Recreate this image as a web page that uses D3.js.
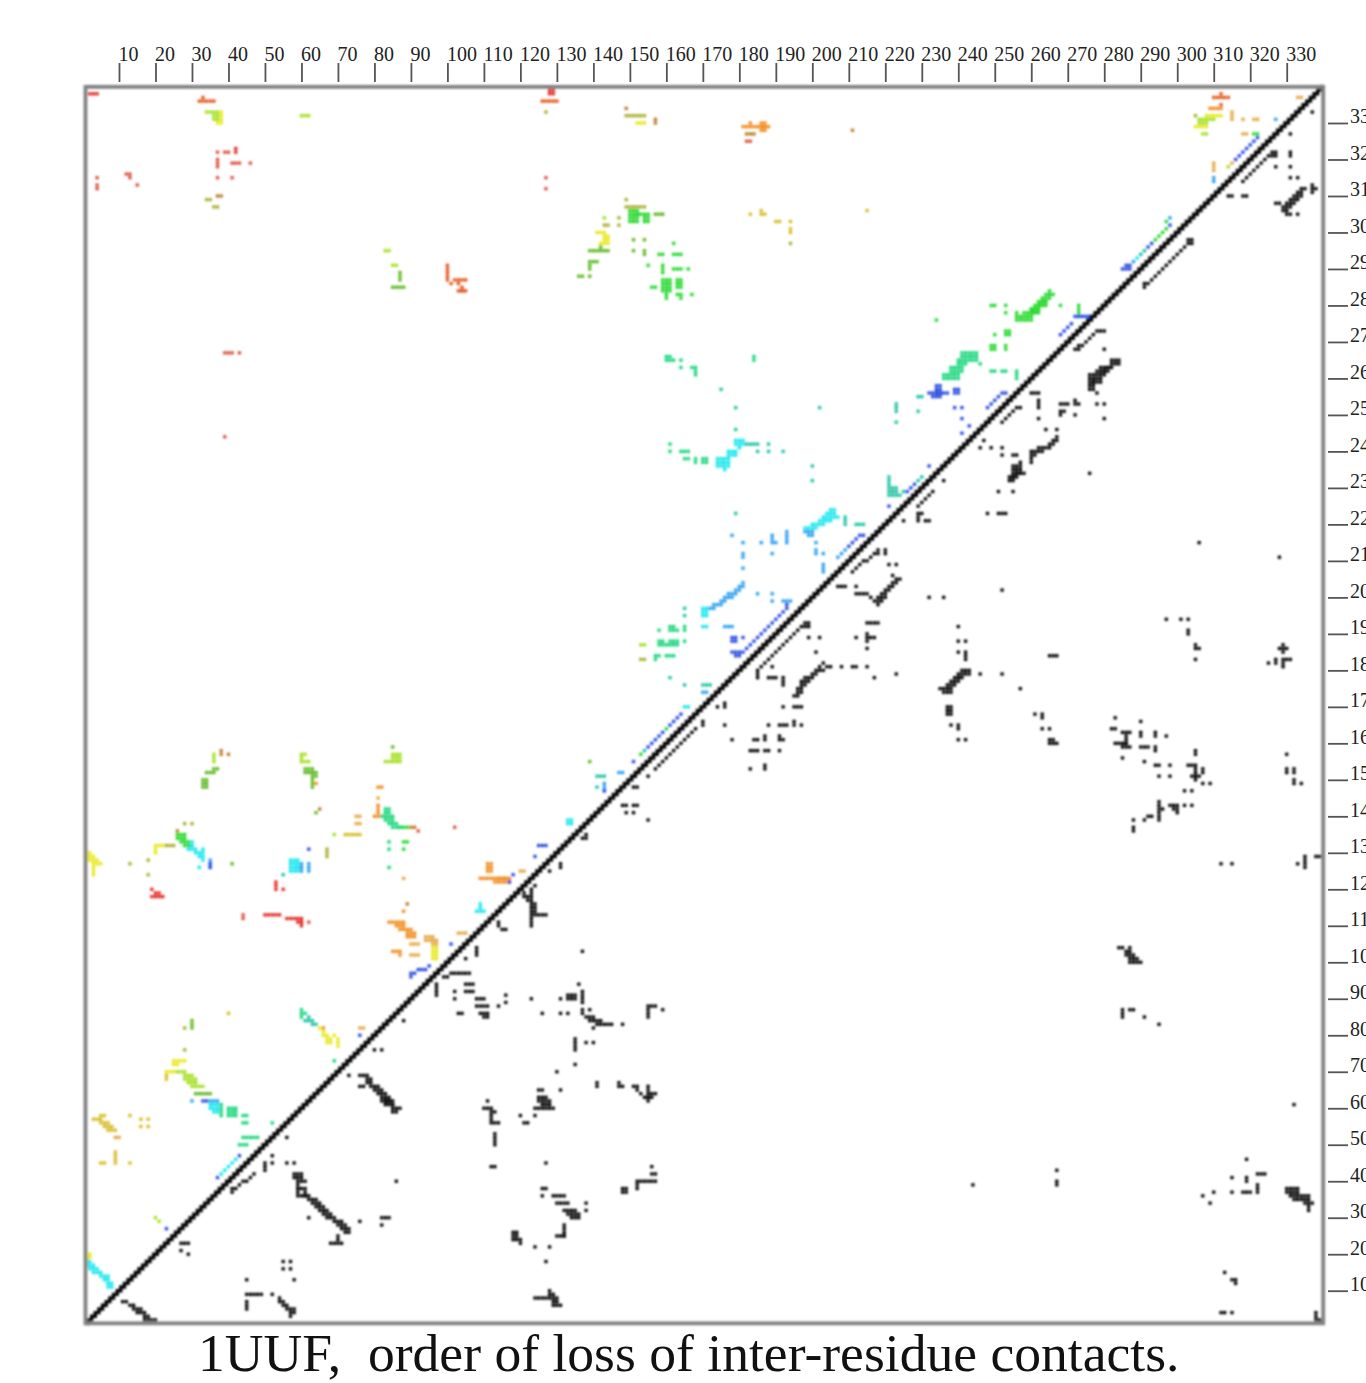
<!DOCTYPE html>
<html>
<head>
<meta charset="utf-8">
<title>1UUF contact map</title>
<script src="https://cdn.jsdelivr.net/npm/d3@7/dist/d3.min.js"></script>
<style>
  html, body { margin: 0; padding: 0; background: #fff; overflow: hidden; }
  svg { display: block; }
  text { font-family: "Liberation Serif", serif; fill: #222; }
</style>
</head>
<body>
<div id="chart"></div>
<script>
// Contact cells in residue numbers.
// [x, y] one cell, [x0, x1, y] a row, [x0, x1, y0, y1] a block.
const TICK_VALUES = [10, 20, 30, 40, 50, 60, 70, 80, 90, 100, 110, 120, 130, 140, 150, 160, 170,
  180, 190, 200, 210, 220, 230, 240, 250, 260, 270, 280, 290, 300, 310, 320, 330];
const TITLE = '1UUF,  order of loss of inter-residue contacts.';

const cellsRed = [[2,4,338],[128,129,338,339],[19,22,118],[20,21,119,119],[19,120],[53,53,120,122],[55,120],
  [50,54,113],[56,59,112],[59,60,111],[60,60,110,112],[42,42,322,323]];
const cellsRose = [[37,322],[39,40,322],[37,37,318,320],[41,43,319],[46,319],[37,315],[41,315],[4,315],[4,4,312,313],
  [12,13,316],[13,315],[15,313],[127,315],[127,312],[182,183,325],[44,44,112,113],[62,111],[39,244],[39,41,267],[43,267],
  [92,136],[102,137]];
const cellsVermilion = [[32,36,336],[33,337],[126,130,336],[310,314,337],[312,338],[312,335],[100,100,287,291],[101,286],
  [102,287],[103,105,287],[103,286],[104,104,284,285],[103,105,284]];
const cellsOrange = [[84,88,111],[86,88,110],[87,90,109],[89,91,108],[89,91,107],[111,112,125,127],[109,116,123],
  [113,117,122],[114,117,123],[181,184,329],[183,330],[185,188,329],[186,187,328,330],[80,82,140],[81,81,141,143],
  [85,87,103],[87,102],[81,82,148],[64,149],[88,114],[309,312,334],[66,82]];
const cellsTan = [[90,92,105],[94,96,106,107],[96,97,105,106],[90,91,102],[92,102],[103,105,108],[120,121,125],[75,76,140],
  [75,76,138],[81,145],[88,123],[76,77,82],[315,315,331,333],[318,331],[321,322,331],[333,334,337],[318,319,327],
  [310,310,317,319],[315,319],[9,10,52]];
const cellsBrown = [[38,38,157,158],[40,157],[37,38,310],[90,91,137],[89,116],[182,184,327],[211,328],[149,334],
  [157,157,330,331],[26,136],[65,142]];
const cellsGold = [[72,76,135],[23,23,68,69],[3,5,57],[5,6,58],[5,7,56],[6,8,55],[7,9,54],[9,9,45,48],[5,6,45],[13,45],
  [13,58],[16,57],[18,57],[16,55],[18,55],[40,86],[183,305],[186,186,305,306],[187,305],[190,191,303],[194,303],
  [194,194,300,301],[215,306]];
const cellsYellow = [[1,2,130],[1,3,129],[1,4,128],[3,5,127],[3,3,124,126],[141,143,300],[143,144,298,299],[142,144,297],
  [38,38,331,333],[37,38,330],[152,154,330],[20,22,132],[20,20,130,131],[23,25,70],[25,28,73],[25,26,72],[66,66,80,81],
  [65,82],[67,67,79,80],[68,79],[69,80],[70,70,77,79],[68,78],[67,78],[305,308,329],[96,97,101,104],[1,2,19,20],
  [308,312,332]];
const cellsOlive = [[34,35,309],[36,37,307],[127,333],[149,154,332],[149,309],[149,154,307],[13,127],[18,128],[18,124],
  [28,138],[30,138],[23,25,132],[143,144,302],[147,304],[147,302],[194,297],[28,76],[28,82],[67,67,129,131],[305,332],
  [153,154,183]];
const cellsLime = [[34,37,333],[36,37,331,332],[60,62,332],[83,84,295],[85,86,291],[143,304],[306,310,331],[306,308,330],
  [307,308,327],[314,318],[36,36,155,157],[60,61,157],[60,60,155,156],[61,62,155],[69,135],[83,87,155],[85,87,156,157],
  [26,28,70],[28,30,69],[28,31,68],[29,31,67],[30,33,66],[20,30],[21,29],[153,154,187]];
const cellsLeaf = [[87,87,287,289],[85,88,285],[139,144,295],[142,296],[139,141,292],[139,139,290,291],[136,137,288],
  [139,288],[157,159,305],[151,298],[154,298],[151,295],[154,154,294,295],[85,159],[61,63,152,153],[63,64,151,152],
  [63,63,148,150],[64,141],[30,30,82,84],[33,34,148,150],[34,36,152],[36,37,153],[41,127],[31,35,64],[139,155]];
const cellsGreen = [[150,152,303,306],[152,155,305],[154,155,303,304],[158,159,294],[162,164,294],[162,297],[155,291],
  [159,159,289,291],[162,164,290],[166,290],[156,157,285],[159,161,284,287],[160,160,282,283],[163,164,285,287],
  [164,164,282,283],[163,283],[167,283],[26,28,134,135],[27,29,133],[28,30,132],[265,265,282,284],[264,264,281,283],
  [263,263,280,282],[262,262,279,281],[261,261,278,280],[260,260,276,279],[256,259,276,277],[258,259,278],[249,250,280],
  [253,280],[253,278],[256,278],[268,280],[234,276],[253,254,272,273],[250,272],[249,250,268,269],[253,253,268,269],
  [88,89,133],[88,131],[87,89,137],[273,273,278,280],[321,322,327],[297,301],[296,300],[295,299],[294,298],[297,303],
  [160,164],[153,157],[262,264,280,281],[260,262,278,279],[265,266,283]];
const cellsSpring = [[160,161,265,266],[162,265],[164,265],[164,263],[167,168,263],[168,168,261,262],[184,184,265,266],
  [161,240],[161,242],[164,166,240],[165,166,238],[168,168,237,238],[170,171,237,238],[241,245,266,267],[240,242,264,265],
  [243,245,265],[238,241,262,263],[236,240,260,261],[246,264],[82,85,140],[83,85,139],[84,86,138],[85,87,137],[83,84,141,142],
  [84,133],[84,131],[84,126],[38,38,58,61],[40,42,58,60],[44,45,58],[44,45,56],[52,56],[69,73],[158,191],[161,162,191,192],
  [163,191],[165,165,191,192],[165,188],[158,159,187,188],[161,163,187,188],[160,187],[157,158,184],[161,162,184],[160,184],
  [157,183],[249,250,262],[252,253,262],[256,256,260,262],[44,46,52],[47,48,52],[43,45,50],[60,60,85,87],[61,86]];
const cellsTeal = [[175,257],[179,252],[179,246],[202,252],[223,223,251,253],[223,248],[229,230,255],[229,251],[182,185,242],
  [188,242],[185,240],[188,240],[192,240],[200,236],[200,232],[221,221,231,233],[221,223,228,230],[224,228],[225,229],
  [229,232],[230,233],[179,223],[209,209,220,222],[212,214,220],[165,197],[165,195],[161,178],[165,176],[170,172,176],
  [141,143,151],[141,148],[55,124],[62,85],[61,62,84],[63,84],[63,64,83],[154,158],[291,295],[290,294]];
const cellsCyan = [[174,177,236,238],[176,235],[177,179,239,240],[179,181,242,243],[180,241],[205,206,224],[204,206,223],
  [203,207,222],[202,205,221],[200,203,220],[198,201,219],[57,59,125,128],[59,60,126,126],[30,30,132,133],[29,31,131],
  [33,131],[31,33,130],[32,33,129],[33,128],[32,126],[1,2,18],[1,3,17],[2,4,16],[3,5,15],[5,7,14],[6,7,13],[7,8,11,12],
  [38,42],[39,43],[40,44],[41,45],[42,46],[35,37,60,61],[36,37,59],[170,171,195,197],[108,110,114],[109,109,115,116],
  [133,134,138,139],[165,166,170],[170,171,192],[289,293]];
const cellsAzure = [[181,204],[180,181,203],[179,180,202],[177,179,201],[176,178,200],[175,176,199],[173,175,198],
  [172,173,197],[198,200,218],[199,200,217],[178,217],[181,215],[181,181,211,212],[181,208],[186,215],[189,190,215],
  [189,189,216,217],[193,193,215,218],[189,212],[201,215],[201,201,212,213],[203,212],[203,203,207,209],[207,211],[208,212],
  [209,213],[185,201],[189,201],[189,199],[192,194,199],[176,178,192],[35,35,126,128],[60,60,125,127],[62,62,125,127],
  [327,331],[310,310,314,315],[30,62],[35,37,62],[143,143,147,149],[147,148,152],[288,292],[298,304],[170,171,174]];
const cellsBlue = [[221,225],[232,236],[228,231],[227,230],[226,229],[322,326],[321,325],[320,324],[319,323],[318,322],[317,321],
  [316,320],[298,302],[293,297],[292,296],[287,291],[286,291],[285,287,290],[273,277],[272,276,277],[271,275],[270,274],[269,273],
  [268,272],[232,237,256],[234,235,255,258],[233,255],[239,240,256,257],[239,252],[241,252],[241,249],[241,245],[243,247],
  [248,252],[249,253],[250,254],[251,255],[252,256],[253,256],[210,214],[211,215],[212,216],[213,214,217],[193,193,197,198],
  [192,196],[191,195],[190,194],[189,193],[188,192],[187,191],[186,190],[185,189],[184,188],[183,187],[182,186],[178,181,185],
  [179,180,184],[178,179,188,189],[181,189],[164,168],[163,167],[162,166],[161,165],[159,163],[158,162],[157,161],[156,160],
  [155,159],[151,155],[143,147],[95,99],[92,94,98],[90,91,97],[90,96],[101,105],[118,124],[117,122],[124,129],[125,127,132],
  [62,131],[76,80],[33,34,62],[43,47],[37,41],[23,27],[35,35,126,127]];

// Lower triangle, upper right of the diagonal band down to residue 150
const cellsBlackHigh = [[337,333],[331,327],[331,331,321,322],[331,318],[331,315],[333,315],[327,318],[326,327,321,322],
  [318,314],[319,315],[320,316],[321,317],[322,318],[323,319],[324,320],[325,321],[314,315,310],[318,319,310],[334,335,312],
  [333,334,311],[332,334,310],[331,333,309],[327,328,308],[330,332,308],[329,331,307],[329,330,306],[330,331,305],[333,305],
  [337,337,311,313],[338,312],[291,286],[291,285],[292,286],[293,287],[294,288],[295,289],[296,290],[297,291],[298,292],
  [299,293],[300,294],[301,295],[302,296],[303,297],[303,304,298],[304,297],[272,273,268],[273,274,269],[275,270],[276,271],
  [277,272],[278,280,273],[280,268],[282,284,264,265],[281,282,263],[280,281,262],[278,280,261],[276,277,257,261],[278,279,260],
  [279,281,263],[278,280,262],[277,279,259],
  [278,256],[278,253],[280,253],[280,249],[268,270,253],[272,273,253],[272,254],[268,268,250,251],[269,251],[272,250],[260,262,256],
  [262,262,252,254],[262,249],[264,246],[267,246],[267,267,243,244],[266,243],[265,266,242],[264,265,241],[262,263,240,241],
  [260,261,239,240],[260,260,237,238],[255,256,239],[257,257,234,237],[255,256,233,236],[256,258,234],[254,255,232,233],
  [246,241],[247,243],[249,241],[252,241],[252,239],[251,229],[255,229],[236,232],[276,234],[252,248],[253,249],[254,250],
  [255,251],[256,252],[257,252],[229,225],[230,226],[231,227],[232,228],[233,229],[225,221],[229,229,221,223],[230,223],
  [231,232,221],[211,207],[212,208],[213,209],[214,210],[215,210],[216,211],[217,212],[218,218,212,213],[220,220,212,213],[221,209],[223,209],
  [207,209,203],[212,203],[212,214,201],[215,201],[222,206],[223,224,205],[222,223,204],[221,222,203],[220,221,202],[219,220,201],
  [218,220,200],[216,200],[217,219,199],[218,198],[232,200],[236,200],[186,181],[187,182],[188,183],[189,184],[190,185],[191,186],
  [192,187],[193,188],[194,189],[195,190],[196,191],[197,192],[198,199,192,193],[199,189],[202,189],[201,185],[212,189],
  [215,215,188,190],[216,217,189],[215,218,193],[215,186],[208,181],[211,212,181],[215,181],[217,178],[223,179],[189,181],[188,190,178],
  [185,185,178,180],[192,192,176,178],[203,182],[204,205,181],[202,181],[201,203,180],[200,201,179],[198,200,178],[197,199,177],
  [197,198,176],[196,197,174,175],[195,196,173],[195,197,170],[192,170],[188,165],[191,193,165],[195,195,165,166],[197,165],
  [174,170],[176,176,170,171],[176,165],[170,170,165,166],[178,161],[184,185,161],[187,187,161,162],[191,191,161,162],[192,161],
  [183,185,158],[187,188,158],[191,158],[183,153],[187,187,153,154],[157,153],[158,154],[159,155],[160,156],[161,157],[162,158],[163,159],
  [164,160],[165,161],[166,162],[167,163],[168,164],[155,151],[151,152,148],[248,223],[251,253,223],[252,202],[306,215],[328,211],
  [240,192],[240,188],[242,188],[240,185],[242,242,183,185],[241,243,179,180],[240,240,178,179],[239,241,178],[238,240,177],
  [237,239,176],[235,238,175],[236,238,174],[246,179],[252,179],[257,175],[237,238,168,170],[238,165],[240,240,164,165],[240,161],
  [242,161],[261,168],[263,263,167,168],[263,164],[265,164],[265,266,161],[265,267,160],[265,267,184]];

// Lower triangle, the right hand side and everything below residue 150
const cellsBlackRight = [[297,194],[301,194],[303,194],[303,303,190,191],[305,305,186,187],[306,186],[305,183],[328,330,186],[329,187],
  [329,185],[325,182],[327,327,182,183],[329,331,183],[329,329,181,182],[283,167],[290,166],[282,283,164],[285,287,163],[286,286,160,162],
  [283,286,160],[285,287,159],[290,290,162,163],[294,294,162,163],[297,162],[290,292,159],[294,294,158,159],[285,156],[291,155],
  [294,295,154],[298,154],[295,151],[298,151],[305,305,157,158],[303,305,154],[305,305,150,153],[307,307,152,153],[304,306,151],
  [307,149],[309,149],[302,147],[304,147],[302,143],[304,143],[298,300,143],[299,300,142],[300,141],[295,295,139,144],[296,142],
  [292,293,140],[291,139],[288,139],[288,288,136,137],[330,157],[330,330,152,153],[332,332,152,153],[332,332,149,150],[334,149],
  [312,127],[315,127],[333,127],[335,335,126,129],[338,339,129],[284,285,104],[287,104],[286,287,102,103],[288,102],[287,289,101],
  [287,290,100],[285,285,85,87],[287,288,87],[291,85],[295,83],[332,61],[244,39],[267,43],[267,267,39,40],[307,36],[310,37],[309,34],
  [315,41],[315,37],[318,320,37],[319,319,40,41],[319,46],[322,324,42],[322,322,37,39],[330,333,37,38],[331,333,36],[332,336,35],
  [334,336,36],[335,337,34],[336,336,32,33],[313,15],[315,316,13],[316,12],[312,313,4],[315,4],[338,338,2,4],[339,2]];

const cellsBlackMiddle = [[137,138,134],[138,135],[131,131,126,127],[128,125],[124,121],[121,121,118,119],[122,122,117,118],[123,123,110,120],
  [124,124,113,116],[125,127,113],[148,149,143],[151,152,143],[149,141],[151,141],[155,139],[137,103],[136,94],[137,137,89,92],[133,135,90,91],
  [131,90],[123,90],[116,91],[126,86],[131,86],[133,86],[137,137,86,87],[139,87],[138,140,85],[139,142,84],[141,144,83],[140,82],[145,83],[148,83],
  [155,155,85,88],[156,157,88],[159,87],[135,135,76,79],[138,78],[140,78],[135,72],[130,70],[141,141,66,67],[131,65],[125,126,65],
  [125,127,63],[125,128,62],[126,128,61],[124,129,60],[120,58],[124,58],[121,122,56],[147,147,66,67],[148,66],[151,152,66],[152,65],[153,64],
  [154,156,63],[155,155,62,66],[156,157,64],[127,45],[126,127,38],[126,36],[129,132,36],[130,133,34],[132,135,32],[133,136,31],[134,136,30],
  [138,34],[138,32],[132,132,25,28],[130,132,25],[118,119,24,26],[120,120,23,24],[124,22],[128,22],[127,18],[124,128,8],[128,10],[128,129,9],
  [129,130,7,8],[129,131,6],[148,149,37,38],[152,152,38,40],[153,154,40],[155,157,40],[156,44],[156,157,42],[101,106,97],[99,100,96],[97,97,91,94],
  [105,107,94],[102,92],[102,90],[103,104,86],[105,107,92],[108,110,90],[108,111,88],[109,111,86],[110,111,85],[114,88],[116,89],[114,114,110,111],
  [115,116,109],[108,108,102,104],[105,101],[111,62],[110,112,60],[112,113,59],[112,112,57,58],[112,114,56],[113,113,50,53],[112,113,44]];

const cellsBlackLow = [[56,52],[52,47],[52,45],[50,50,43,45],[56,45],[58,45],[41,37],[41,42,38],[43,39],[44,45,40],[46,41],[47,42],
  [58,60,41,42],[59,59,38,40],[60,61,40],[59,61,38],[59,59,36,37],[61,61,36,37],[60,62,36],[62,30],[62,64,35],[63,65,34],[64,66,33],[65,67,32],
  [66,68,31],[67,69,30],[69,71,29],[70,72,28],[71,73,27],[72,73,26],[68,71,23],[70,70,24,25],[76,29],[82,84,30],[82,28],[86,40],[76,78,69],
  [73,69],[76,77,66],[78,79,67,68],[79,81,66],[80,82,65],[81,83,64],[82,84,62,63],[83,85,61,62],[85,85,59,61],[86,86,59,60],[87,60],[80,76],[82,76],
  [88,84],[27,29,23],[27,21],[29,20],[11,12,7],[13,14,6],[14,16,5],[15,17,4],[17,18,3],[17,20,2],[55,18],[57,18],[55,16],[57,16],[45,13],[58,13],[45,49,9],
  [52,9],[45,45,5,7],[54,54,7,8],[55,55,6,7],[56,56,5,6],[57,58,4,5],[57,3]];

const GROUPS = [
  { cells: cellsRed, color: '#e22a24' }, { cells: cellsRose, color: '#d9503f' },
  { cells: cellsVermilion, color: '#e2561c' }, { cells: cellsOrange, color: '#f28a1c' },
  { cells: cellsTan, color: '#e3a744' }, { cells: cellsBrown, color: '#b97a2a' },
  { cells: cellsGold, color: '#d6bb22' }, { cells: cellsYellow, color: '#e6e818' },
  { cells: cellsOlive, color: '#a8ae30' }, { cells: cellsLime, color: '#a2e01e' },
  { cells: cellsLeaf, color: '#5cb820' }, { cells: cellsGreen, color: '#22d82a' },
  { cells: cellsSpring, color: '#14d67a' }, { cells: cellsTeal, color: '#1ec2a2' },
  { cells: cellsCyan, color: '#12e6ee' }, { cells: cellsAzure, color: '#2a9ef0' },
  { cells: cellsBlue, color: '#2848e0' }, { cells: cellsBlackHigh, color: '#000' },
  { cells: cellsBlackRight, color: '#000' }, { cells: cellsBlackMiddle, color: '#000' },
  { cells: cellsBlackLow, color: '#000' }
];

const WIDTH = 1366;
const HEIGHT = 1383;
const CELL = 3.3;

// expand a row or block entry into single cells
function expand(entry) {
  let x0, x1, y0, y1;
  if (entry.length === 2) { x0 = x1 = entry[0]; y0 = y1 = entry[1]; }
  else if (entry.length === 3) { x0 = entry[0]; x1 = entry[1]; y0 = y1 = entry[2]; }
  else { [x0, x1, y0, y1] = entry; }
  const out = [];
  for (let cx = x0; cx <= x1; cx++) {
    for (let cy = y0; cy <= y1; cy++) out.push([cx, cy]);
  }
  return out;
}

const xScale = d3.scaleLinear().domain([0, 340]).range([82.5, 1323.2]);
const yScale = d3.scaleLinear().domain([0, 340]).range([1327.2, 86.5]);

const svg = d3.select('#chart').append('svg').attr('width', WIDTH).attr('height', HEIGHT);

const defs = svg.append('defs');
defs.append('filter').attr('id', 'soft')
  .attr('x', 0).attr('y', 0).attr('width', WIDTH).attr('height', HEIGHT)
  .attr('filterUnits', 'userSpaceOnUse')
  .append('feGaussianBlur').attr('stdDeviation', 0.8);

const plot = svg.append('g').attr('filter', 'url(#soft)');

// colored cells above the diagonal, black ones below
plot.selectAll('g.group')
  .data(GROUPS)
  .join('g')
  .attr('class', 'group')
  .attr('fill', d => d.color)
  .selectAll('rect')
  .data(d => d.cells.flatMap(expand))
  .join('rect')
  .attr('x', d => xScale(d[0]) - CELL / 2)
  .attr('y', d => yScale(d[1]) - CELL / 2)
  .attr('width', CELL)
  .attr('height', CELL);

// the main diagonal is a staircase of cells
const residues = d3.range(1, 341);
plot.append('path')
  .datum(residues)
  .attr('fill', 'none')
  .attr('stroke', '#000')
  .attr('stroke-width', 3.4)
  .attr('d', d3.line().x(d => xScale(d)).y(d => yScale(d)).curve(d3.curveStep));

// frame
plot.append('rect')
  .attr('x', xScale(0.82)).attr('y', yScale(339.9))
  .attr('width', xScale(340) - xScale(0.82)).attr('height', yScale(1.06) - yScale(339.9))
  .attr('fill', 'none').attr('stroke', '#808080').attr('stroke-width', 3.8);

const topAxis = d3.axisTop(xScale).tickValues(TICK_VALUES).tickSize(19).tickPadding(2);
const topG = svg.append('g').attr('transform', 'translate(0,82)').call(topAxis);
topG.select('.domain').remove();
topG.selectAll('line').attr('stroke', '#555').attr('stroke-width', 1.8);
topG.selectAll('text').attr('text-anchor', 'start').attr('dx', -1)
  .attr('font-size', 20).attr('fill', '#222');

const rightAxis = d3.axisRight(yScale).tickValues(TICK_VALUES).tickSize(20).tickPadding(2);
const rightG = svg.append('g').attr('transform', 'translate(1328,0)').call(rightAxis);
rightG.select('.domain').remove();
rightG.selectAll('line').attr('stroke', '#555').attr('stroke-width', 1.8);
rightG.selectAll('text').attr('dy', 0).attr('font-size', 20).attr('fill', '#222');

svg.append('text')
  .attr('x', 198).attr('y', 1371)
  .attr('font-size', 53.6)
  .style('white-space', 'pre')
  .style('fill', '#111')
  .text(TITLE);
</script>
</body>
</html>
